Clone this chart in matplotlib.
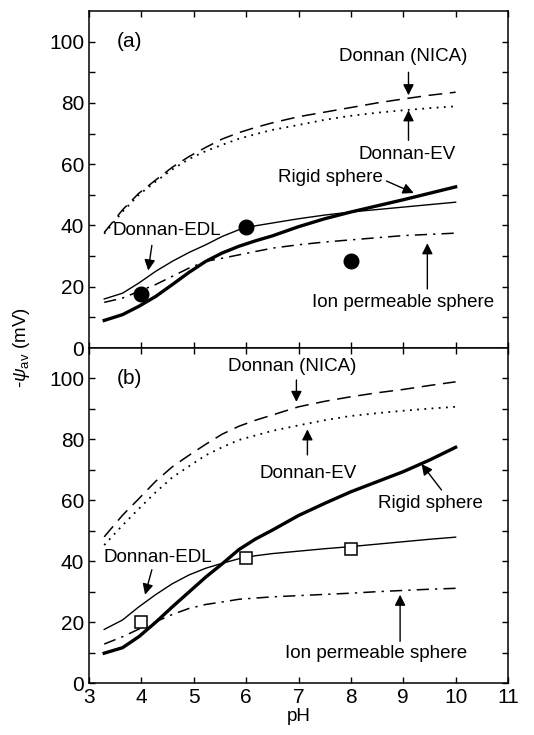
import numpy as np
import matplotlib
matplotlib.use("Agg")
import matplotlib.pyplot as plt

plt.rcParams['font.family'] = ['Liberation Sans', 'DejaVu Sans']
plt.rcParams['mathtext.fontset'] = 'custom'
plt.rcParams['mathtext.rm'] = 'Liberation Sans'
plt.rcParams['mathtext.it'] = 'Liberation Sans:italic'

# pH grid used for the model curves
ph = [3.29, 3.64, 3.95, 4.27, 4.59, 4.91, 5.23, 5.54, 5.86, 6.18,
      6.5, 7.0, 7.5, 8.0, 8.5, 9.0, 9.5, 10.0]

# panel (a)
nica_a = [37.7, 45.1, 50.5, 54.8, 59.0, 62.5, 65.5, 68.2, 70.3, 72.0,
          73.5, 75.5, 77.0, 78.5, 80.0, 81.3, 82.5, 83.5]
ev_a = [37.3, 44.5, 50.0, 54.3, 58.3, 61.7, 64.3, 66.3, 68.3, 69.8,
        71.2, 72.8, 74.5, 75.8, 76.8, 77.6, 78.3, 78.9]
edl_a = [16.0, 17.9, 21.2, 25.0, 28.3, 31.2, 33.7, 36.4, 38.6, 39.9,
         40.8, 42.2, 43.4, 44.4, 45.2, 46.0, 46.8, 47.6]
ips_a = [14.9, 16.3, 18.5, 20.7, 23.4, 26.1, 28.3, 29.3, 30.4, 31.5,
         32.6, 33.7, 34.6, 35.3, 36.0, 36.7, 37.1, 37.5]
rigid_a = [9.0, 10.9, 13.6, 16.8, 20.7, 24.7, 28.3, 31.0, 33.2, 35.0,
           36.6, 39.6, 42.2, 44.4, 46.4, 48.4, 50.5, 52.6]
exp_ph_a = [4, 6, 8]
exp_a = [17.7, 39.5, 28.4]

# panel (b)
nica_b = [48.0, 55.1, 60.5, 66.2, 71.0, 74.8, 78.4, 81.7, 84.3, 86.3,
          88.0, 90.7, 92.5, 94.0, 95.3, 96.4, 97.7, 98.9]
ev_b = [45.3, 51.8, 57.2, 62.6, 67.5, 71.2, 74.8, 77.4, 79.8, 81.3,
        82.8, 84.6, 86.3, 87.7, 88.6, 89.4, 90.1, 90.7]
edl_b = [17.6, 20.7, 25.0, 29.0, 32.6, 35.5, 37.7, 39.3, 40.8, 41.8,
         42.5, 43.3, 44.1, 44.8, 45.6, 46.4, 47.2, 47.9]
ips_b = [12.8, 15.2, 17.7, 20.1, 22.5, 24.5, 25.8, 26.6, 27.5, 27.9,
         28.3, 28.7, 29.1, 29.5, 30.0, 30.4, 30.8, 31.1]
rigid_b = [9.8, 11.6, 15.2, 19.9, 25.0, 29.9, 34.8, 39.1, 43.8, 47.3,
           50.2, 55.0, 59.0, 62.8, 66.1, 69.4, 73.2, 77.4]
exp_ph_b = [4, 6, 8]
exp_b = [20.0, 41.2, 43.9]

fig = plt.figure(figsize=(5.34, 7.35), dpi=100)
ax_a = fig.add_axes([0.1667, 0.5265, 0.7846, 0.4585])
ax_b = fig.add_axes([0.1667, 0.0707, 0.7846, 0.4558])

arrow = dict(arrowstyle='-|>', color='k', lw=1.0, mutation_scale=16, shrinkA=0, shrinkB=0)
fs = 13.5


def draw_curves(ax, nica, ev, edl, ips, rigid):
    ax.plot(ph, nica, color='k', lw=1.1, ls=(0, (9, 5)))
    ax.plot(ph, ev, color='k', lw=1.3, ls=(0, (1, 3)))
    ax.plot(ph, edl, color='k', lw=1.0)
    ax.plot(ph, ips, color='k', lw=1.1, ls=(0, (8, 4, 1.5, 4)))
    ax.plot(ph, rigid, color='k', lw=2.4)


def note(ax, txt, tx, ty, xy, xytext):
    ax.text(tx, ty, txt, fontsize=fs, ha='center', va='center')
    ax.annotate('', xy=xy, xytext=xytext, arrowprops=arrow)


draw_curves(ax_a, nica_a, ev_a, edl_a, ips_a, rigid_a)
ax_a.plot(exp_ph_a, exp_a, 'o', color='k', ms=10.5, ls='none')

draw_curves(ax_b, nica_b, ev_b, edl_b, ips_b, rigid_b)
ax_b.plot(exp_ph_b, exp_b, 's', mfc='white', mec='k', mew=1.1, ms=8.5, ls='none')

# labels with arrows, panel (a)
ax_a.text(3.78, 100, '(a)', fontsize=15, ha='center', va='center')
note(ax_a, 'Donnan (NICA)', 9.0, 95, (9.1, 82.5), (9.1, 90))
note(ax_a, 'Donnan-EV', 9.07, 63.2, (9.1, 77.6), (9.1, 67.8))
note(ax_a, 'Rigid sphere', 7.61, 55.8, (9.2, 50.6), (8.68, 54.5))
note(ax_a, 'Donnan-EDL', 4.49, 38.4, (4.13, 25.3), (4.2, 33.5))
note(ax_a, 'Ion permeable sphere', 9.0, 15, (9.46, 34.2), (9.46, 19.3))

# labels with arrows, panel (b)
ax_b.text(3.78, 100, '(b)', fontsize=15, ha='center', va='center')
note(ax_b, 'Donnan (NICA)', 6.87, 103.8, (6.96, 92.3), (6.96, 99.5))
note(ax_b, 'Donnan-EV', 7.19, 68.9, (7.17, 83.3), (7.17, 74.9))
note(ax_b, 'Rigid sphere', 9.51, 59.0, (9.35, 71.9), (9.73, 63.4))
note(ax_b, 'Donnan-EDL', 4.32, 41.3, (4.07, 29.0), (4.2, 37.2))
note(ax_b, 'Ion permeable sphere', 8.48, 9.8, (8.94, 29.0), (8.94, 13.7))

yt = np.arange(0, 101, 10)
ylab = [str(v) if v % 20 == 0 else '' for v in yt]
for ax in (ax_a, ax_b):
    ax.set_xlim(3, 11)
    ax.set_ylim(0, 110)
    ax.set_xticks(range(3, 12))
    ax.set_yticks(yt)
    ax.set_yticklabels(ylab)
    ax.tick_params(direction='in', top=True, right=True, length=4, width=1,
                   labelsize=15)
    for s in ax.spines.values():
        s.set_linewidth(1.1)

ax_a.set_xticklabels([])
ax_b.set_xlabel('pH', fontsize=fs, labelpad=1)
fig.text(0.041, 0.5265, r'-$\it{\psi}_{\rm av}$ (mV)', rotation=90,
         ha='center', va='center', fontsize=fs)

fig.savefig('out.png', dpi=100)
